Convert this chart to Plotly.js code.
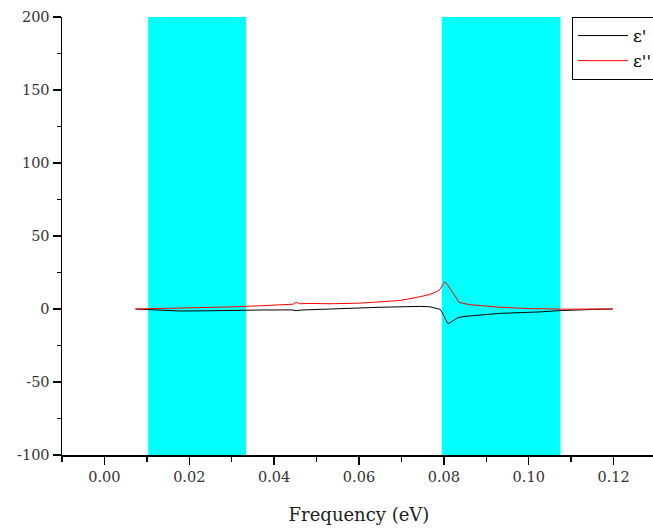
<!DOCTYPE html>
<html>
<head>
<meta charset="utf-8">
<script src="https://cdn.plot.ly/plotly-3.0.1.min.js"></script>
<style>
  html, body { margin: 0; padding: 0; background: #fff; overflow: hidden; }
  #chart { width: 690px; height: 530px; }
</style>
</head>
<body>
<div id="chart"></div>
<script>
// Real part of the dielectric function, epsilon'
const epsRealFreq = [0.0073, 0.0108, 0.0179, 0.0250, 0.0296, 0.0367, 0.0440, 0.0452, 0.0465, 0.0532,
                     0.0602, 0.0650, 0.0696, 0.0744, 0.0767, 0.0784, 0.0791, 0.0796, 0.0802, 0.0809,
                     0.0814, 0.0826, 0.0833, 0.0850, 0.0885, 0.0932, 0.1026, 0.1073, 0.1150, 0.1198];
const epsReal     = [0.0, -0.5, -1.4, -1.2, -0.9, -0.7, -0.6, -1.1, -0.7, -0.2,
                     0.7, 1.2, 1.6, 1.8, 1.5, 0.6, -0.2, -2.5, -6.0, -9.8,
                     -9.5, -7.5, -6.0, -5.0, -4.1, -3.0, -2.0, -1.1, -0.3, 0.0];

// Imaginary part of the dielectric function, epsilon''
const epsImagFreq = [0.0073, 0.0108, 0.0179, 0.0250, 0.0296, 0.0367, 0.0420, 0.0445, 0.0452, 0.0460,
                     0.0480, 0.0532, 0.0602, 0.0650, 0.0696, 0.0744, 0.0767, 0.0784, 0.0791, 0.0796,
                     0.0802, 0.0808, 0.0814, 0.0820, 0.0826, 0.0831, 0.0836, 0.0860, 0.0885, 0.0932,
                     0.1000, 0.1073, 0.1100, 0.1150, 0.1198];
const epsImag     = [0.0, 0.2, 0.6, 1.0, 1.4, 2.2, 3.0, 3.3, 4.6, 3.6,
                     3.8, 3.6, 4.0, 4.8, 5.8, 8.4, 10.0, 12.0, 13.5, 16.0,
                     18.5, 17.0, 14.4, 12.0, 9.6, 7.5, 4.5, 3.0, 2.2, 1.2,
                     0.3, -0.3, -0.2, 0.0, 0.0];

// Highlighted frequency windows (eV)
const bandStart = [0.0103, 0.0795];
const bandEnd   = [0.0334, 0.1075];

const seriesNames = ["\u03b5'", "\u03b5''"];

const xTicks = [0, 0.02, 0.04, 0.06, 0.08, 0.10, 0.12];
const xTickText = ['0.00', '0.02', '0.04', '0.06', '0.08', '0.10', '0.12'];
const yTicks = [-100, -50, 0, 50, 100, 150, 200];
const yTickText = ['-100', '-50', '0', '50', '100', '150', '200'];

const yMin = -100, yMax = 200;

const shapes = bandStart.map((x0, i) => ({
  type: 'rect', xref: 'x', yref: 'y', layer: 'below',
  x0: x0, x1: bandEnd[i], y0: yMin, y1: yMax,
  fillcolor: '#00ffff', line: { width: 0 }
}));

const traces = [
  { x: epsRealFreq, y: epsReal, name: seriesNames[0], mode: 'lines',
    line: { color: '#000000', width: 1 } },
  { x: epsImagFreq, y: epsImag, name: seriesNames[1], mode: 'lines',
    line: { color: '#ff0000', width: 1 } }
];

const tickFont = { family: 'DejaVu Serif, serif', size: 14.5, color: '#333' };

// The figure is wider than the window: the right-hand strip (legend edge) runs off the page.
const layout = {
  width: 690, height: 530,
  margin: { l: 62, r: 34, t: 17, b: 75 },
  paper_bgcolor: '#ffffff', plot_bgcolor: '#ffffff',
  showlegend: true,
  legend: {
    x: 0.8586, y: 1, xanchor: 'left', yanchor: 'top',
    bordercolor: '#000', borderwidth: 1, bgcolor: '#ffffff',
    font: { family: 'DejaVu Serif, serif', size: 17, color: '#000' },
    itemwidth: 50,
    tracegroupgap: 0
  },
  xaxis: {
    range: [-0.01, 0.13],
    tickvals: xTicks, ticktext: xTickText,
    ticks: 'outside', ticklen: 8, tickwidth: 1.5, tickcolor: '#000',
    minor: { tickvals: [-0.01, 0.01, 0.03, 0.05, 0.07, 0.09, 0.11], ticks: 'outside', ticklen: 5, tickwidth: 1.5, tickcolor: '#000' },
    showline: true, linecolor: '#000', linewidth: 1.5,
    showgrid: false, zeroline: false, mirror: false,
    tickfont: tickFont,
    title: { text: 'Frequency (eV)', font: { family: 'DejaVu Serif, serif', size: 18, color: '#222' }, standoff: 24 }
  },
  yaxis: {
    range: [yMin, yMax],
    tickvals: yTicks, ticktext: yTickText,
    ticks: 'outside', ticklen: 8, tickwidth: 1.5, tickcolor: '#000',
    minor: { tickvals: [-75, -25, 25, 75, 125, 175], ticks: 'outside', ticklen: 4, tickwidth: 1.5, tickcolor: '#000' },
    showline: true, linecolor: '#000', linewidth: 1.5,
    showgrid: false, zeroline: false, mirror: false,
    tickfont: tickFont
  },
  shapes: shapes
};

Plotly.newPlot('chart', traces, layout, { displayModeBar: false, staticPlot: true });
</script>
</body>
</html>
